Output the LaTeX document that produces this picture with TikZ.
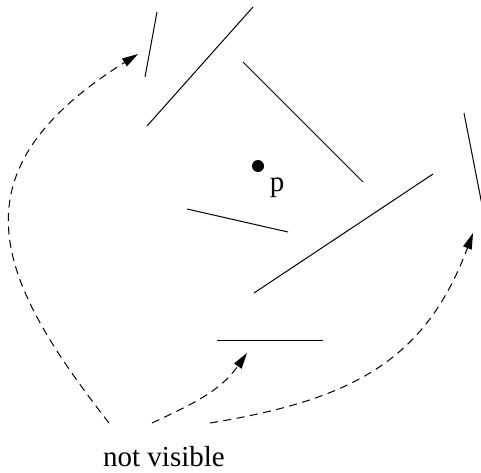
\documentclass[tikz,border=0pt]{standalone}
\usepackage{fontspec}
\setmainfont{Liberation Serif}
\usetikzlibrary{arrows.meta}
\begin{document}
\begin{tikzpicture}[x=1pt,y=1pt,
  wall/.style={line width=1pt},
  hint/.style={line width=1pt,dash pattern=on 8pt off 5.5pt,-{Triangle[length=16pt,width=9pt]}},
  lbl/.style={font=\fontsize{29}{34}\selectfont,inner sep=0pt,anchor=base}]
\useasboundingbox (0,0) rectangle (481,472);
% wall segments
\draw[wall] (157,460) -- (145,395);
\draw[wall] (253,465) -- (147,346);
\draw[wall] (243,410) -- (363,290);
\draw[wall] (464,359) -- (483,262);
\draw[wall] (433,298) -- (254,179);
\draw[wall] (187,263) -- (288,240);
\draw[wall] (217,132) -- (323,132);
% point p
\fill (258,306) circle (6);
\node[lbl] (p) at (277,281) {p};
% label
\node[lbl] (nv) at (164,6) {not visible};
% connector ends
\coordinate (a0) at (109,49);
\coordinate (a1) at (138,418);
\coordinate (b0) at (152,49);
\coordinate (b1) at (247,119);
\coordinate (c0) at (210,49);
\coordinate (c1) at (473,239);
\draw[hint] (a0) .. controls (-5,195) and (-50,300) .. (a1);
\draw[hint] (b0) to[out=25,in=235] (b1);
\draw[hint] (c0) .. controls (350,72) and (425,110) .. (c1);
\end{tikzpicture}
\end{document}
